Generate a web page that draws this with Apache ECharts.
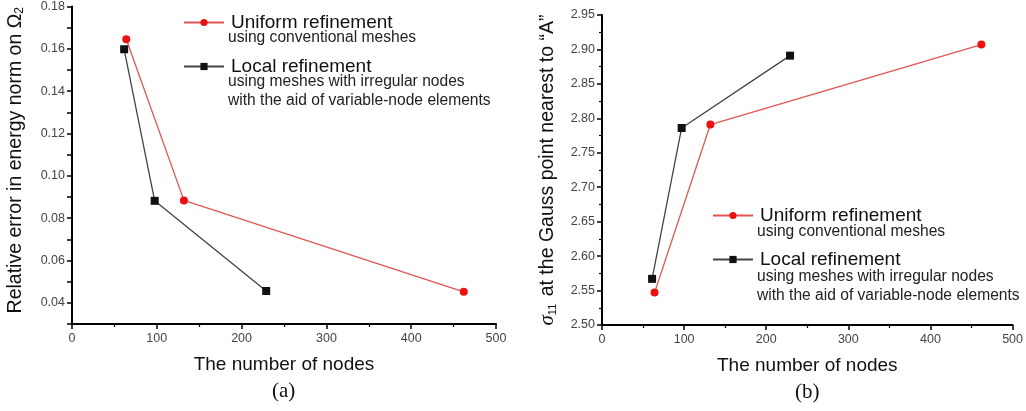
<!DOCTYPE html>
<html lang="en">
<head>
    <meta charset="UTF-8"/>
    <title>Refinement comparison</title>
    <script src="https://cdn.jsdelivr.net/npm/echarts@6.0.0/dist/echarts.min.js"></script>
    <style>
        * { margin: 0; padding: 0; box-sizing: border-box; }
        body { background: #fff; }
        #chart { width: 1026px; height: 411px; }
    </style>
</head>
<body>
<div id="chart"></div>
<script>
    // (a) relative error in energy norm
    const uniformErrX = [64, 132, 462];
    const uniformErrY = [0.1645, 0.0884, 0.0452];
    const localErrX = [61.5, 97.5, 229];
    const localErrY = [0.1598, 0.0882, 0.0456];

    // (b) sigma_11 at the Gauss point nearest to "A"
    const uniformSigX = [64, 132, 462];
    const uniformSigY = [2.547, 2.791, 2.907];
    const localSigX = [61, 97, 229];
    const localSigY = [2.567, 2.786, 2.891];

    const legendNames = ['Uniform refinement', 'Local refinement'];
    const legendSub = [['using conventional meshes'],
        ['using meshes with irregular nodes', 'with the aid of variable-node elements']];

    const pair = (xs, ys) => xs.map((x, i) => [x, ys[i]]);

    const font = "'Liberation Sans', Arial, sans-serif";
    const tickLabel = {color: '#444', fontSize: 12.5, fontFamily: font};
    const axisLine = {lineStyle: {color: '#000', width: 2}};
    const axisTick = {length: 5, lineStyle: {color: '#000', width: 1.5}};
    const minorTick = {show: true, splitNumber: 2, length: 3, lineStyle: {color: '#000', width: 1.2}};

    function xAxis(grid) {
        return {
            type: 'value', gridIndex: grid, min: 0, max: 500, interval: 100,
            name: 'The number of nodes', nameLocation: 'middle', nameGap: 31,
            nameTextStyle: {fontSize: 19, color: '#111', fontFamily: font},
            axisLine: axisLine, axisTick: axisTick, minorTick: minorTick,
            axisLabel: Object.assign({margin: 8}, tickLabel),
            splitLine: {show: false}
        };
    }

    const uniformStyle = {
        type: 'line', symbol: 'circle', symbolSize: 8,
        lineStyle: {color: '#e05555', width: 1.3},
        itemStyle: {color: '#ee1111'}
    };
    const localStyle = {
        type: 'line', symbol: 'rect', symbolSize: 8,
        lineStyle: {color: '#444', width: 1.3},
        itemStyle: {color: '#111'}
    };

    function legend(left, top) {
        return {
            data: legendNames, orient: 'vertical', left: left, top: top,
            itemWidth: 40, itemHeight: 9, itemGap: 23,
            textStyle: {fontSize: 19, color: '#111', fontFamily: font, lineHeight: 21, padding: [0, 0, 0, 2]}
        };
    }

    function subTexts(x, ys) {
        const lines = legendSub[0].concat(legendSub[1]);
        return lines.map((t, i) => ({
            type: 'text', left: x, top: ys[i] - 9,
            style: {text: t, fontSize: 15.6, fill: '#222', fontFamily: font}
        }));
    }

    const chart = echarts.init(document.getElementById('chart'));
    chart.setOption({
        animation: false,
        legend: [legend(178, 7), legend(707, 200)],
        grid: [
            {left: 72, top: 6, width: 424, height: 318},
            {left: 602, top: 15, width: 414, height: 310}
        ],
        xAxis: [xAxis(0), xAxis(1)],
        yAxis: [
            {
                type: 'value', gridIndex: 0, min: 0.03, max: 0.18, interval: 0.01,
                name: 'Relative error in energy norm on Ω{sub|2}', nameLocation: 'middle', nameGap: 46,
                nameTextStyle: {
                    fontSize: 19.5, color: '#111', fontFamily: font, padding: [0, 0, 0, 10],
                    rich: {sub: {fontSize: 12, color: '#111', fontFamily: font, verticalAlign: 'bottom', padding: [8, 0, 0, 0]}}
                },
                axisLine: axisLine, axisTick: axisTick,
                axisLabel: Object.assign({
                    margin: 7,
                    formatter: v => (Math.round(v * 100) % 2 === 0 ? v.toFixed(2) : '')
                }, tickLabel),
                splitLine: {show: false}
            },
            {
                type: 'value', gridIndex: 1, min: 2.5, max: 2.95, interval: 0.05,
                name: '{sig|σ}{sub|11} at the Gauss point nearest to “A”', nameLocation: 'middle', nameGap: 44,
                nameTextStyle: {
                    fontSize: 19.5, color: '#111', fontFamily: font,
                    rich: {
                        sig: {fontSize: 21, color: '#111', fontStyle: 'italic', fontFamily: "'Liberation Serif', serif"},
                        sub: {fontSize: 11, color: '#111', fontFamily: font, verticalAlign: 'bottom', padding: [8, 2, 0, 0]}
                    }
                },
                axisLine: axisLine, axisTick: axisTick, minorTick: minorTick,
                axisLabel: Object.assign({margin: 7, formatter: v => v.toFixed(2)}, tickLabel),
                splitLine: {show: false}
            }
        ],
        graphic: subTexts(228, [39, 83, 102]).concat(subTexts(757, [233, 278, 297])).concat([
            {type: 'text', left: 272, top: 381, style: {text: '(a)', fontSize: 21, fill: '#111', fontFamily: "'Liberation Serif', serif"}},
            {type: 'text', left: 795, top: 382, style: {text: '(b)', fontSize: 21, fill: '#111', fontFamily: "'Liberation Serif', serif"}}
        ]),
        series: [
            Object.assign({name: legendNames[0], xAxisIndex: 0, yAxisIndex: 0, data: pair(uniformErrX, uniformErrY)}, uniformStyle),
            Object.assign({name: legendNames[1], xAxisIndex: 0, yAxisIndex: 0, data: pair(localErrX, localErrY)}, localStyle),
            Object.assign({name: legendNames[0], xAxisIndex: 1, yAxisIndex: 1, data: pair(uniformSigX, uniformSigY)}, uniformStyle),
            Object.assign({name: legendNames[1], xAxisIndex: 1, yAxisIndex: 1, data: pair(localSigX, localSigY)}, localStyle)
        ]
    });
</script>
</body>
</html>
